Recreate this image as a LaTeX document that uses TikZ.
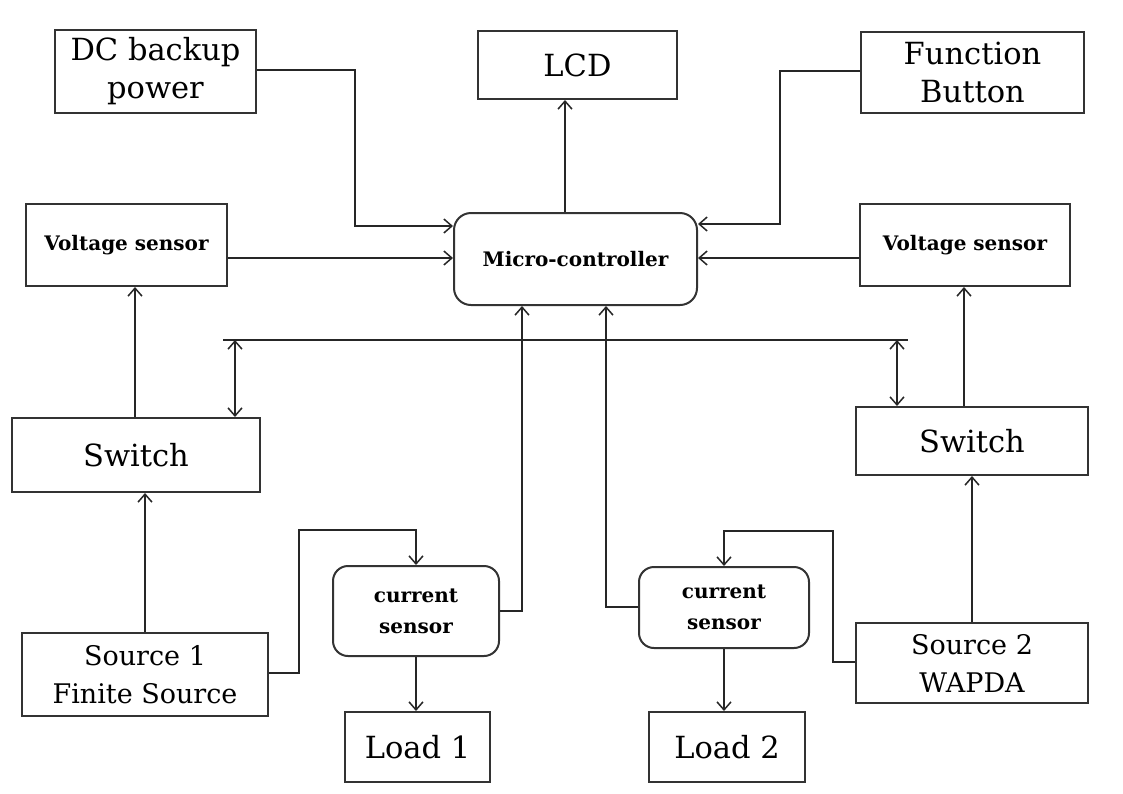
\documentclass[tikz,border=0pt]{standalone}
\usepackage{fontspec}
\setmainfont{DejaVu Serif}
\usetikzlibrary{arrows.meta}
\begin{document}
\begin{tikzpicture}[x=1pt,y=-1pt,
  box/.style={draw=black!80, line width=2pt, inner sep=0pt, align=center, fill=white},
  rbox/.style={box, rounded corners=15pt},
  big/.style={font=\fontsize{30.5}{38}\selectfont},
  mid/.style={font=\fontsize{27}{38}\selectfont},
  sm/.style={font=\bfseries\fontsize{20}{31}\selectfont},
  wire/.style={line width=1.5pt, draw=black!85},
  tip/.tip={Straight Barb[length=8pt,width=14pt,line width=1.5pt]},
  arr/.style={wire, -tip},
  darr/.style={wire, tip-tip}]
\useasboundingbox (0,0) rectangle (1123,793);
\fill[white] (0,0) rectangle (1123,793);

% nodes
\node[box,big,minimum width=201pt,minimum height=83pt] (dc) at (155.5,71.5) {DC backup\\power};
\node[box,big,minimum width=199pt,minimum height=68pt] (lcd) at (577.5,65) {LCD};
\node[box,big,minimum width=223pt,minimum height=81pt] (fb) at (972.5,72.5) {Function\\Button};
\node[box,sm,minimum width=201pt,minimum height=82pt] (vsl) at (126.5,245) {Voltage sensor};
\node[rbox,sm,minimum width=243pt,minimum height=92pt,rounded corners=17pt] (mc) at (575.5,259) {Micro-controller};
\node[box,sm,minimum width=210pt,minimum height=82pt] (vsr) at (965,245) {Voltage sensor};
\node[box,big,minimum width=248pt,minimum height=74pt] (swl) at (136,455) {Switch};
\node[box,big,minimum width=232pt,minimum height=68pt] (swr) at (972,441) {Switch};
\node[box,mid,minimum width=246pt,minimum height=83pt] (s1) at (145,674.5) {Source 1\\Finite Source};
\node[rbox,sm,minimum width=166pt,minimum height=90pt] (cs1) at (416,611) {current\\sensor};
\node[box,mid,minimum width=232pt,minimum height=80pt] (s2) at (972,663) {Source 2\\WAPDA};
\node[rbox,sm,minimum width=170pt,minimum height=81pt] (cs2) at (724,607.5) {current\\sensor};
\node[box,big,minimum width=145pt,minimum height=70pt] (l1) at (417.5,747) {Load 1};
\node[box,big,minimum width=156pt,minimum height=70pt] (l2) at (727,747) {Load 2};

% bus
\coordinate (busL) at (223,340);
\coordinate (busR) at (908,340);
\coordinate (busA) at (235,340);
\coordinate (busB) at (897,340);
\draw[wire] (busL) -- (busR);
\draw[darr] (busA) -- (swl.north -| busA);
\draw[darr] (busB) -- (swr.north -| busB);

% connectors
\draw[arr] (dc.east |- 0,70) -- (355,70) |- (mc.west |- 0,226);
\draw[arr] (mc.north -| 565,0) -- (lcd.south -| 565,0);
\draw[arr] (fb.west |- 0,71) -- (780,71) |- (mc.east |- 0,224);
\draw[arr] (vsl.east |- 0,258) -- (mc.west |- 0,258);
\draw[arr] (vsr.west |- 0,258) -- (mc.east |- 0,258);
\draw[arr] (swl.north -| 135,0) -- (vsl.south -| 135,0);
\draw[arr] (swr.north -| 964,0) -- (vsr.south -| 964,0);
\draw[arr] (s1.north -| 145,0) -- (swl.south -| 145,0);
\draw[arr] (s2.north -| 972,0) -- (swr.south -| 972,0);
\draw[arr] (s1.east |- 0,673) -- (299,673) -- (299,530) -| (cs1.north);
\draw[arr] (cs1.east |- 0,611) -| (mc.south -| 522,0);
\draw[arr] (cs1.south) -- (cs1.south |- l1.north);
\draw[arr] (s2.west |- 0,662) -- (833,662) -- (833,531) -| (cs2.north);
\draw[arr] (cs2.west |- 0,607) -| (mc.south -| 606,0);
\draw[arr] (cs2.south) -- (cs2.south |- l2.north);
\end{tikzpicture}
\end{document}
